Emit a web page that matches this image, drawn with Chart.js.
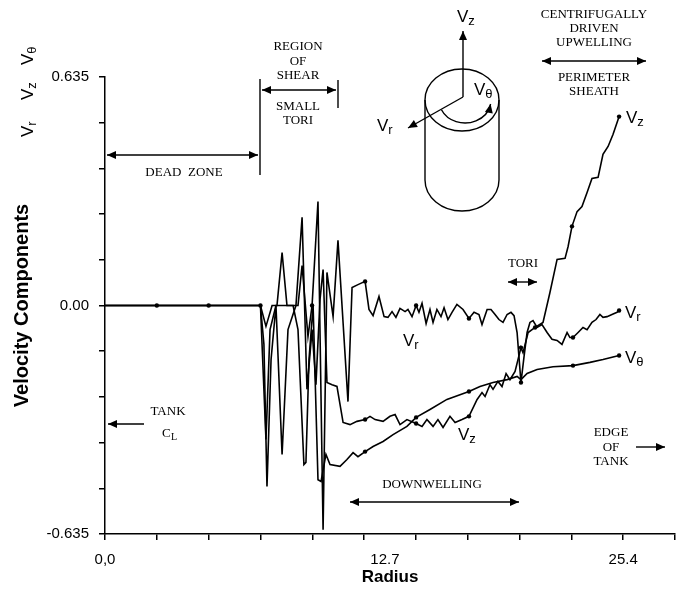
<!DOCTYPE html>
<html>
<head>
<meta charset="utf-8">
<script src="https://cdn.jsdelivr.net/npm/chart.js@4.4.0/dist/chart.umd.min.js"></script>
<style>
  html, body { margin: 0; padding: 0; background: #fff; }
  #wrap { width: 686px; height: 599px; position: relative; }
</style>
</head>
<body>
<div id="wrap"><canvas id="velChart"></canvas></div>
<script>
// =========================
// Data (radius, velocity)
// =========================
const vrR = [0, 2.54, 5.08, 7.62, 7.89, 8.19, 8.43, 8.68, 8.92, 9.46, 9.66, 9.95, 10.15, 10.44, 10.69, 10.88,
  11.18, 11.42, 11.91, 12.11, 12.40, 12.75, 12.94, 13.14, 13.43, 13.68, 13.87, 14.07, 14.26, 14.46, 14.71,
  14.85, 15.05, 15.25, 15.39, 15.54, 15.74, 15.93, 16.08, 16.27, 16.47, 16.62, 16.81, 17.01, 17.25, 17.55,
  17.84, 18.09, 18.33, 18.48, 18.73, 18.92, 19.12, 19.31, 19.51, 19.71, 19.90, 20.05, 20.20, 20.29, 20.39,
  20.54, 20.69, 20.83, 20.98, 21.18, 21.42, 21.67, 21.91, 22.16, 22.40, 22.65, 22.79, 22.94, 23.19, 23.43,
  23.63, 23.87, 24.07, 24.26, 24.41, 24.61, 24.85, 25.10, 25.20];
const vrV = [0, 0, 0, 0, -0.058, 0, 0, 0.147, 0, 0, 0.111, -0.086, 0, 0.289, -0.623, 0.092,
  -0.031, 0.181, -0.267, 0.050, 0.058, 0.067, -0.011, -0.028, 0.025, -0.031, -0.033, -0.017, -0.033, -0.008, -0.017,
  -0.011, -0.031, 0, -0.019, 0.006, -0.050, -0.011, -0.047, -0.011, -0.031, -0.006, -0.039, -0.019, 0.003, -0.011,
  -0.036, -0.019, -0.025, -0.053, -0.011, -0.011, -0.025, -0.039, -0.047, -0.025, -0.019, -0.028, -0.075, -0.142, -0.214,
  -0.142, -0.075, -0.047, -0.042, -0.061, -0.053, -0.075, -0.094, -0.097, -0.108, -0.075, -0.089, -0.089, -0.075, -0.061,
  -0.067, -0.047, -0.039, -0.025, -0.033, -0.031, -0.025, -0.019, -0.014];

const vzR = [0, 2.54, 5.08, 7.62, 7.79, 7.94, 8.14, 8.38, 8.68, 8.97, 9.36, 9.66, 9.90, 10.15, 10.34, 10.54,
  10.69, 10.88, 11.13, 11.37, 11.67, 12.01, 12.35, 12.75, 12.99, 13.24, 13.63, 13.97, 14.22, 14.46, 14.80,
  15.25, 15.54, 15.78, 16.08, 16.32, 16.57, 16.91, 17.16, 17.50, 17.84, 18.24, 18.48, 18.63, 18.87, 19.02,
  19.26, 19.46, 19.66, 19.85, 20.10, 20.39, 20.49, 20.74, 21.08, 21.47, 21.81, 22.16, 22.55, 22.70, 22.89,
  23.14, 23.38, 23.63, 23.87, 24.17, 24.41, 24.66, 24.90, 25.20];
const vzV = [0, 0, 0, 0, -0.108, -0.503, -0.150, 0, -0.414, -0.067, 0, 0.245, -0.233, -0.067, -0.220, 0.017,
  0.100, -0.214, -0.220, -0.225, -0.325, -0.331, -0.322, -0.317, -0.308, -0.317, -0.322, -0.308, -0.303, -0.331, -0.317,
  -0.328, -0.336, -0.317, -0.336, -0.317, -0.339, -0.308, -0.325, -0.317, -0.308, -0.261, -0.242, -0.253, -0.220, -0.233,
  -0.211, -0.225, -0.189, -0.206, -0.183, -0.117, -0.131, -0.075, -0.061, -0.047, 0.036, 0.128, 0.131, 0.164, 0.220,
  0.261, 0.275, 0.314, 0.353, 0.356, 0.420, 0.442, 0.475, 0.525];

const vtR = [0, 2.54, 5.08, 7.62, 7.89, 8.09, 8.38, 9.22, 9.46, 9.75, 9.85, 10.00, 10.20, 10.44, 10.59, 10.83,
  11.03, 11.52, 11.86, 12.16, 12.40, 12.75, 13.14, 13.63, 14.12, 14.80, 15.25, 15.93, 16.76, 17.84, 18.38,
  19.02, 19.71, 20.20, 20.39, 20.69, 21.18, 21.96, 22.94, 23.77, 24.41, 25.20];
const vtV = [0, 0, 0, 0, -0.372, -0.067, 0, 0, -0.067, -0.442, -0.436, -0.150, 0, -0.484, -0.489, -0.414,
  -0.442, -0.447, -0.428, -0.409, -0.420, -0.406, -0.392, -0.378, -0.359, -0.336, -0.311, -0.289, -0.261, -0.239, -0.225,
  -0.214, -0.206, -0.197, -0.206, -0.189, -0.178, -0.170, -0.167, -0.158, -0.150, -0.139];

// measuring stations drawn as dots
const vrDots = [2.54, 5.08, 7.62, 10.15, 12.75, 15.25, 17.84, 20.39, 22.94, 25.20];
const vzDots = [12.75, 15.25, 17.84, 20.39, 21.08, 22.89, 25.20];
const vtDots = [12.75, 15.25, 17.84, 22.94, 25.20];

// axes
const xTicks = [0, 2.54, 5.08, 7.62, 10.16, 12.7, 15.24, 17.78, 20.32, 22.86, 25.4, 27.94];
const xTickLabels = ["0,0", "", "", "", "", "12.7", "", "", "", "", "25.4", ""];
const yTicks = [-0.635, -0.508, -0.381, -0.254, -0.127, 0, 0.127, 0.254, 0.381, 0.508, 0.635];
const yTickLabels = ["-0.635", "", "", "", "", "0.00", "", "", "", "", "0.635"];

const SANS = '"Liberation Sans", Arial, Helvetica, sans-serif';
const SERIF = '"Liberation Serif", "Times New Roman", serif';

function series(rs, vs, dots) {
  return {
    data: rs.map((r, i) => ({ x: r, y: vs[i] })),
    borderColor: "#000",
    borderWidth: 1.6,
    tension: 0,
    pointRadius: (c) => (dots.includes(c.raw.x) ? 2.2 : 0),
    pointBackgroundColor: "#000",
    pointBorderWidth: 0,
  };
}

// =========================
// Helpers for annotations
// =========================
function head(ctx, x1, y1, x2, y2) {
  const a = Math.atan2(y2 - y1, x2 - x1);
  const L = 9, W = 4;
  ctx.beginPath();
  ctx.moveTo(x2, y2);
  ctx.lineTo(x2 - L * Math.cos(a) + W * Math.sin(a), y2 - L * Math.sin(a) - W * Math.cos(a));
  ctx.lineTo(x2 - L * Math.cos(a) - W * Math.sin(a), y2 - L * Math.sin(a) + W * Math.cos(a));
  ctx.closePath();
  ctx.fill();
}

function arrow(ctx, x1, y1, x2, y2, both) {
  ctx.beginPath();
  ctx.moveTo(x1, y1);
  ctx.lineTo(x2, y2);
  ctx.stroke();
  head(ctx, x1, y1, x2, y2);
  if (both) head(ctx, x2, y2, x1, y1);
}

function line(ctx, x1, y1, x2, y2) {
  ctx.beginPath();
  ctx.moveTo(x1, y1);
  ctx.lineTo(x2, y2);
  ctx.stroke();
}

function vLabel(ctx, x, y, sub, size) {
  ctx.textAlign = "left";
  ctx.textBaseline = "alphabetic";
  ctx.font = size + "px " + SANS;
  ctx.fillText("V", x, y);
  const w = ctx.measureText("V").width;
  ctx.font = Math.round(size * 0.75) + "px " + SANS;
  ctx.fillText(sub, x + w, y + size * 0.2);
}

function serifLines(ctx, x, ys, texts) {
  ctx.font = "13px " + SERIF;
  ctx.textAlign = "center";
  ctx.textBaseline = "middle";
  texts.forEach((t, i) => ctx.fillText(t, x, ys[i]));
}

const notes = {
  id: "notes",
  afterDraw(chart) {
    const ctx = chart.ctx;
    ctx.save();
    ctx.strokeStyle = "#000";
    ctx.fillStyle = "#000";
    ctx.lineWidth = 1.4;

    // rotated component labels at top left
    [["\u03b8", 56], ["z", 91], ["r", 128]].forEach(([s, cy]) => {
      ctx.save();
      ctx.translate(33, cy + 9);
      ctx.rotate(-Math.PI / 2);
      vLabel(ctx, 0, 0, s, 17);
      ctx.restore();
    });

    // dead zone
    arrow(ctx, 107, 155, 258, 155, true);
    line(ctx, 260, 79, 260, 175);
    serifLines(ctx, 184, [173], ["DEAD  ZONE"]);

    // region of shear
    serifLines(ctx, 298, [47, 62, 76], ["REGION", "OF", "SHEAR"]);
    arrow(ctx, 262, 90, 336, 90, true);
    line(ctx, 338, 80, 338, 108);
    serifLines(ctx, 298, [107, 121], ["SMALL", "TORI"]);

    // cylinder
    ctx.beginPath();
    ctx.ellipse(462, 100, 37, 31, 0, 0, Math.PI * 2);
    ctx.stroke();
    line(ctx, 425, 100, 425, 180);
    line(ctx, 499, 100, 499, 180);
    ctx.beginPath();
    ctx.ellipse(462, 180, 37, 31, 0, 0, Math.PI);
    ctx.stroke();
    arrow(ctx, 463, 97, 463, 31, false);
    arrow(ctx, 463, 97, 408, 128, false);
    ctx.beginPath();
    ctx.ellipse(465, 100, 26, 23, 0, (155 * Math.PI) / 180, (10 * Math.PI) / 180, true);
    ctx.stroke();
    head(ctx, 489, 112, 490.6, 104);
    vLabel(ctx, 457, 22, "z", 17);
    vLabel(ctx, 377, 131, "r", 17);
    vLabel(ctx, 474, 95, "\u03b8", 17);

    // upwelling / sheath
    serifLines(ctx, 594, [15, 29, 43], ["CENTRIFUGALLY", "DRIVEN", "UPWELLING"]);
    arrow(ctx, 542, 61, 646, 61, true);
    serifLines(ctx, 594, [78, 92], ["PERIMETER", "SHEATH"]);

    // tori
    serifLines(ctx, 523, [264], ["TORI"]);
    arrow(ctx, 508, 282, 537, 282, true);

    // tank centre line
    serifLines(ctx, 168, [412], ["TANK"]);
    ctx.font = "13px " + SERIF;
    ctx.textAlign = "left";
    ctx.textBaseline = "alphabetic";
    ctx.fillText("C", 162, 437);
    ctx.font = "10px " + SERIF;
    ctx.fillText("L", 171, 440);
    arrow(ctx, 144, 424, 108, 424, false);

    // downwelling
    serifLines(ctx, 432, [485], ["DOWNWELLING"]);
    arrow(ctx, 350, 502, 519, 502, true);

    // edge of tank
    serifLines(ctx, 611, [433, 448, 462], ["EDGE", "OF", "TANK"]);
    arrow(ctx, 636, 447, 665, 447, false);

    // series labels
    vLabel(ctx, 626, 123, "z", 17);
    vLabel(ctx, 625, 318, "r", 17);
    vLabel(ctx, 625, 363, "\u03b8", 17);
    vLabel(ctx, 403, 346, "r", 17);
    vLabel(ctx, 458, 440, "z", 17);

    ctx.restore();
  },
};

// =========================
// Chart
// =========================
const velCanvas = document.getElementById("velChart");

new Chart(velCanvas, {
  type: "line",
  data: {
    datasets: [series(vrR, vrV, vrDots), series(vzR, vzV, vzDots), series(vtR, vtV, vtDots)],
  },
  options: {
    responsive: true,
    maintainAspectRatio: false,
    animation: false,
    layout: { padding: { top: 77, right: 11, left: 0, bottom: 0 } },
    plugins: {
      legend: { display: false },
      tooltip: { enabled: false },
    },
    scales: {
      x: {
        type: "linear",
        min: 0,
        max: 27.94,
        afterBuildTicks: (axis) => {
          axis.ticks = xTicks.map((v) => ({ value: v }));
        },
        afterFit: (axis) => {
          axis.height = 65;
        },
        ticks: {
          autoSkip: false,
          maxRotation: 0,
          padding: 11,
          color: "#000",
          font: { family: SANS, size: 15 },
          callback: (v, i) => (xTickLabels[i] === "12.7" ? " ".repeat(10) + "12.7" : xTickLabels[i]),
        },
        grid: { drawOnChartArea: false, drawTicks: true, tickLength: 6, color: "#000", lineWidth: 1.5 },
        border: { display: true, color: "#000", width: 1.5 },
        title: {
          display: true,
          text: "Radius",
          color: "#000",
          font: { family: SANS, size: 17, weight: "bold" },
          padding: { top: 0, bottom: 11 },
        },
      },
      y: {
        type: "linear",
        min: -0.635,
        max: 0.635,
        afterBuildTicks: (axis) => {
          axis.ticks = yTicks.map((v) => ({ value: v }));
        },
        afterFit: (axis) => {
          axis.width = 105;
        },
        ticks: {
          autoSkip: false,
          padding: 10,
          color: "#000",
          font: { family: SANS, size: 15 },
          callback: (v, i) => yTickLabels[i],
        },
        grid: { drawOnChartArea: false, drawTicks: true, tickLength: 6, color: "#000", lineWidth: 1.5 },
        border: { display: true, color: "#000", width: 1.5 },
        title: {
          display: true,
          text: "Velocity Components",
          color: "#000",
          font: { family: SANS, size: 20, weight: "bold" },
          padding: { top: 10, bottom: 0 },
        },
      },
    },
  },
  plugins: [notes],
});
</script>
</body>
</html>
